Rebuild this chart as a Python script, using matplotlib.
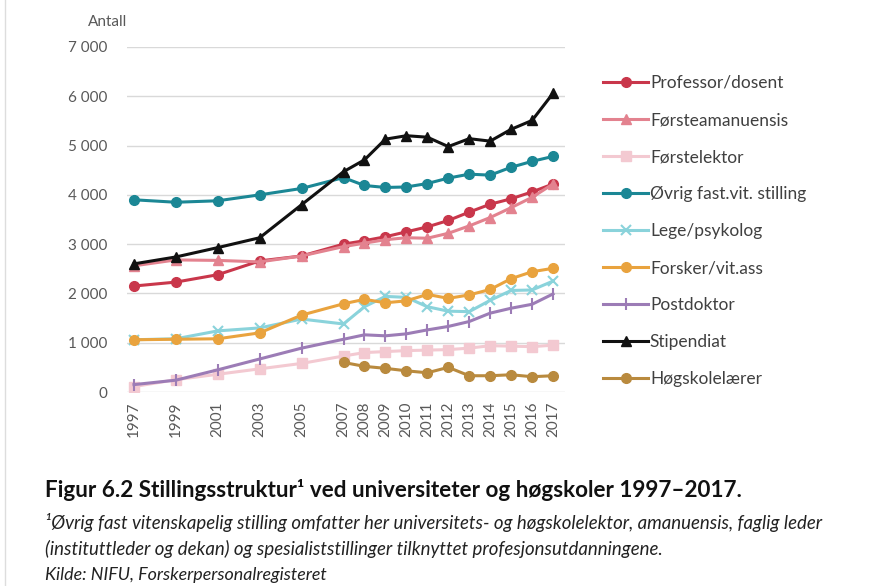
import numpy as np
import matplotlib
matplotlib.use("Agg")
from matplotlib import pyplot as plt

plt.rcParams['font.family'] = ['Lato', 'DejaVu Sans']

# Data
years = [1997, 1999, 2001, 2003, 2005, 2007, 2008, 2009, 2010, 2011,
         2012, 2013, 2014, 2015, 2016, 2017]
nan = np.nan

professor = [2150, 2230, 2380, 2660, 2760, 3000, 3070, 3150, 3250, 3350,
             3480, 3650, 3810, 3920, 4060, 4220]
forsteamanuensis = [2560, 2680, 2670, 2640, 2760, 2950, 3020, 3090, 3130, 3120,
                    3220, 3370, 3540, 3740, 3950, 4220]
forstelektor = [110, 250, 360, 470, 580, 730, 800, 820, 840, 850,
                860, 890, 940, 930, 920, 950]
ovrig = [3900, 3850, 3880, 4000, 4130, 4350, 4190, 4150, 4160, 4230,
         4340, 4420, 4400, 4560, 4680, 4780]
lege = [1060, 1080, 1240, 1300, 1480, 1380, 1730, 1940, 1920, 1730,
        1640, 1630, 1860, 2060, 2070, 2250]
forsker = [1060, 1070, 1080, 1200, 1560, 1790, 1880, 1810, 1850, 1980,
           1900, 1970, 2080, 2300, 2440, 2510]
postdoktor = [150, 240, 450, 670, 890, 1070, 1160, 1140, 1180, 1260,
              1330, 1430, 1600, 1700, 1780, 1990]
stipendiat = [2600, 2740, 2930, 3130, 3800, 4470, 4710, 5130, 5200, 5170,
              4980, 5140, 5090, 5330, 5510, 6060]
hogskolelaerer = [nan, nan, nan, nan, nan, 600, 520, 480, 430, 390,
                  500, 330, 330, 350, 310, 330]

labels = ["Professor/dosent", "Førsteamanuensis", "Førstelektor",
          "Øvrig fast.vit. stilling", "Lege/psykolog", "Forsker/vit.ass",
          "Postdoktor", "Stipendiat", "Høgskolelærer"]
serier = [professor, forsteamanuensis, forstelektor, ovrig, lege, forsker,
          postdoktor, stipendiat, hogskolelaerer]
farger = ["#C9374B", "#E3828F", "#F3C9D1", "#1B8795", "#8AD3DB", "#E9A33E",
          "#9C7CB6", "#111111", "#B98A3E"]
markorer = ["o", "^", "s", "o", "x", "o", "|", "^", "o"]

fig = plt.figure(figsize=(8.78, 5.86), dpi=100)
ax = fig.add_axes([127/878, 1-392/586, (565-127)/878, (392-47)/586])

for navn, verdier, farge, m in zip(labels, serier, farger, markorer):
    ms = 7 if m != "|" else 8
    ax.plot(years, verdier, color=farge, lw=2.2, marker=m, ms=ms,
            markeredgewidth=1.5 if m in ("x", "|") else 1.0, label=navn)

ax.set_xlim(1997 - 7/21, 2017 + 12/21)
ax.set_ylim(0, 7000)
ax.set_yticks(range(0, 7001, 1000))
ax.set_yticklabels(["0", "1 000", "2 000", "3 000", "4 000", "5 000", "6 000", "7 000"])
ax.set_xticks(years)
ax.set_xticklabels([str(y) for y in years], rotation=90)
ax.tick_params(length=0, labelsize=11, colors="#595959")
ax.tick_params(axis="y", pad=14)
ax.tick_params(axis="x", pad=7)
ax.grid(axis="y", color="#D9D9D9", lw=1)
ax.set_axisbelow(True)
for s in ax.spines.values():
    s.set_visible(False)

fig.text(88/878, 1-22/586, "Antall", fontsize=11, color="#595959", va="center")

leg = fig.legend(loc="upper left", bbox_to_anchor=(603/878, 1-75/586), frameon=False,
                 fontsize=12.5, labelspacing=1.21, handlelength=2.6, handletextpad=0.1,
                 borderaxespad=0, borderpad=0)
for t in leg.get_texts():
    t.set_color("#404040")

# Caption
fig.text(45/878, 1-490/586, "Figur 6.2 Stillingsstruktur¹ ved universiteter og høgskoler 1997–2017.",
         fontsize=16.2, fontweight="bold", color="#111111", va="center")
fig.text(45/878, 1-523/586,
         "¹Øvrig fast vitenskapelig stilling omfatter her universitets- og høgskolelektor, amanuensis, faglig leder",
         fontsize=13.4, style="italic", color="#222222", va="center")
fig.text(45/878, 1-549/586,
         "(instituttleder og dekan) og spesialiststillinger tilknyttet profesjonsutdanningene.",
         fontsize=13.4, style="italic", color="#222222", va="center")
fig.text(45/878, 1-575/586, "Kilde: NIFU, Forskerpersonalregisteret",
         fontsize=12.9, style="italic", color="#222222", va="center")

# svak kantlinje til venstre
fig.add_artist(plt.Line2D([5/878, 5/878], [0, 1], color="#DDDDDD", lw=1))

fig.savefig("out.png", dpi=100)
